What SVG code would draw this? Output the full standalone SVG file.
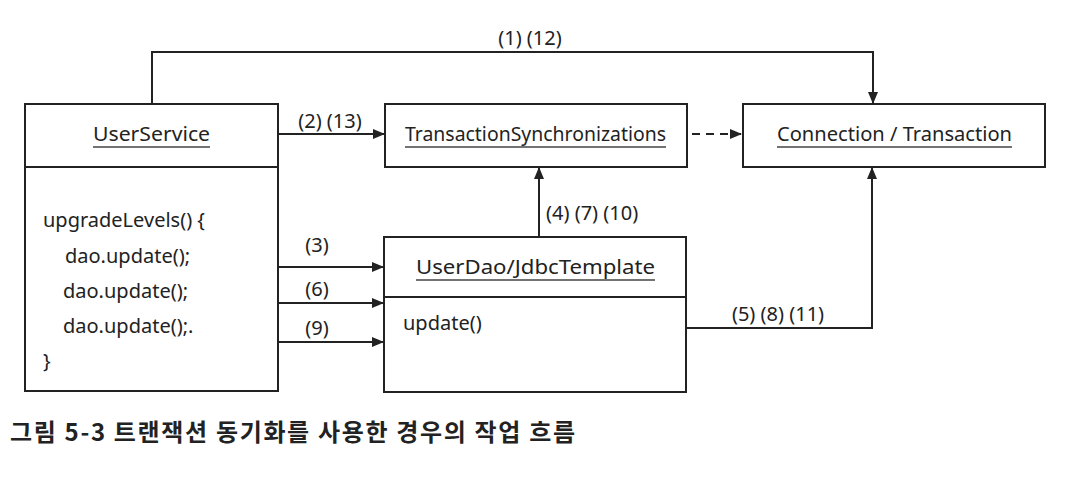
<svg xmlns="http://www.w3.org/2000/svg" width="1072" height="479" viewBox="0 0 1072 479">
<style>
.box{fill:#fff;stroke:#222;stroke-width:2}
.ln{fill:none;stroke:#222;stroke-width:2}
.t{font-family:"Noto Sans","Open Sans",sans-serif;font-size:20px;fill:#222}
.c{text-anchor:middle}
.ul{stroke:#444;stroke-width:1.5}
.cap{font-family:"Noto Sans CJK KR","Noto Sans",sans-serif;font-size:24px;font-weight:bold;fill:#222}
</style>
<defs>
<marker id="ah" markerWidth="12" markerHeight="12" viewBox="0 0 12 12" refX="11" refY="6" orient="auto" markerUnits="userSpaceOnUse">
<path d="M0,1 L12,6 L0,11 Z" fill="#222"/>
</marker>
</defs>
<g id="connectors">
<path class="ln" d="M152,104 V52 H873 V103" marker-end="url(#ah)"/>
<line class="ln" x1="278" y1="134" x2="384" y2="134" marker-end="url(#ah)"/>
<line class="ln" x1="692" y1="134" x2="741" y2="134" stroke-dasharray="8,6" marker-end="url(#ah)"/>
<line class="ln" x1="539" y1="237" x2="539" y2="168" marker-end="url(#ah)"/>
<line class="ln" x1="278" y1="267" x2="383" y2="267" marker-end="url(#ah)"/>
<line class="ln" x1="278" y1="303" x2="383" y2="303" marker-end="url(#ah)"/>
<line class="ln" x1="278" y1="342" x2="383" y2="342" marker-end="url(#ah)"/>
<path class="ln" d="M686,328 H872 V168" marker-end="url(#ah)"/>
<text class="t c" x="530" y="45">(1) (12)</text>
<text class="t c" x="330" y="128">(2) (13)</text>
<text class="t" x="546" y="220">(4) (7) (10)</text>
<text class="t c" x="317" y="252">(3)</text>
<text class="t c" x="317" y="296">(6)</text>
<text class="t c" x="317" y="335">(9)</text>
<text class="t c" x="778" y="321">(5) (8) (11)</text>
</g>
<g id="userService">
<rect class="box" x="25" y="104" width="253" height="287"/>
<line class="ln" x1="25" y1="167" x2="278" y2="167"/>
<text class="t" x="93" y="141" textLength="117" lengthAdjust="spacingAndGlyphs">UserService</text>
<line class="ul" x1="93" y1="147" x2="210" y2="147"/>
<text class="t" x="43" y="227">upgradeLevels() {</text>
<text class="t" x="65" y="263">dao.update();</text>
<text class="t" x="63" y="298">dao.update();</text>
<text class="t" x="63" y="333">dao.update();.</text>
<text class="t" x="43" y="368">}</text>
</g>
<g id="txSync">
<rect class="box" x="385" y="104" width="302" height="63"/>
<text class="t" x="405" y="141" textLength="261" lengthAdjust="spacingAndGlyphs">TransactionSynchronizations</text>
<line class="ul" x1="405" y1="147" x2="666" y2="147"/>
</g>
<g id="connTx">
<rect class="box" x="743" y="104" width="302" height="63"/>
<text class="t" x="777" y="141" textLength="235" lengthAdjust="spacingAndGlyphs">Connection / Transaction</text>
<line class="ul" x1="777" y1="147" x2="1012" y2="147"/>
</g>
<g id="userDao">
<rect class="box" x="384" y="237" width="302" height="155"/>
<line class="ln" x1="384" y1="297" x2="686" y2="297"/>
<text class="t" x="416" y="274" textLength="239" lengthAdjust="spacingAndGlyphs">UserDao/JdbcTemplate</text>
<line class="ul" x1="416" y1="280" x2="655" y2="280"/>
<text class="t" x="403" y="330">update()</text>
</g>
<text class="cap" x="10" y="441" textLength="565" lengthAdjust="spacing">그림 5-3 트랜잭션 동기화를 사용한 경우의 작업 흐름</text>
</svg>
